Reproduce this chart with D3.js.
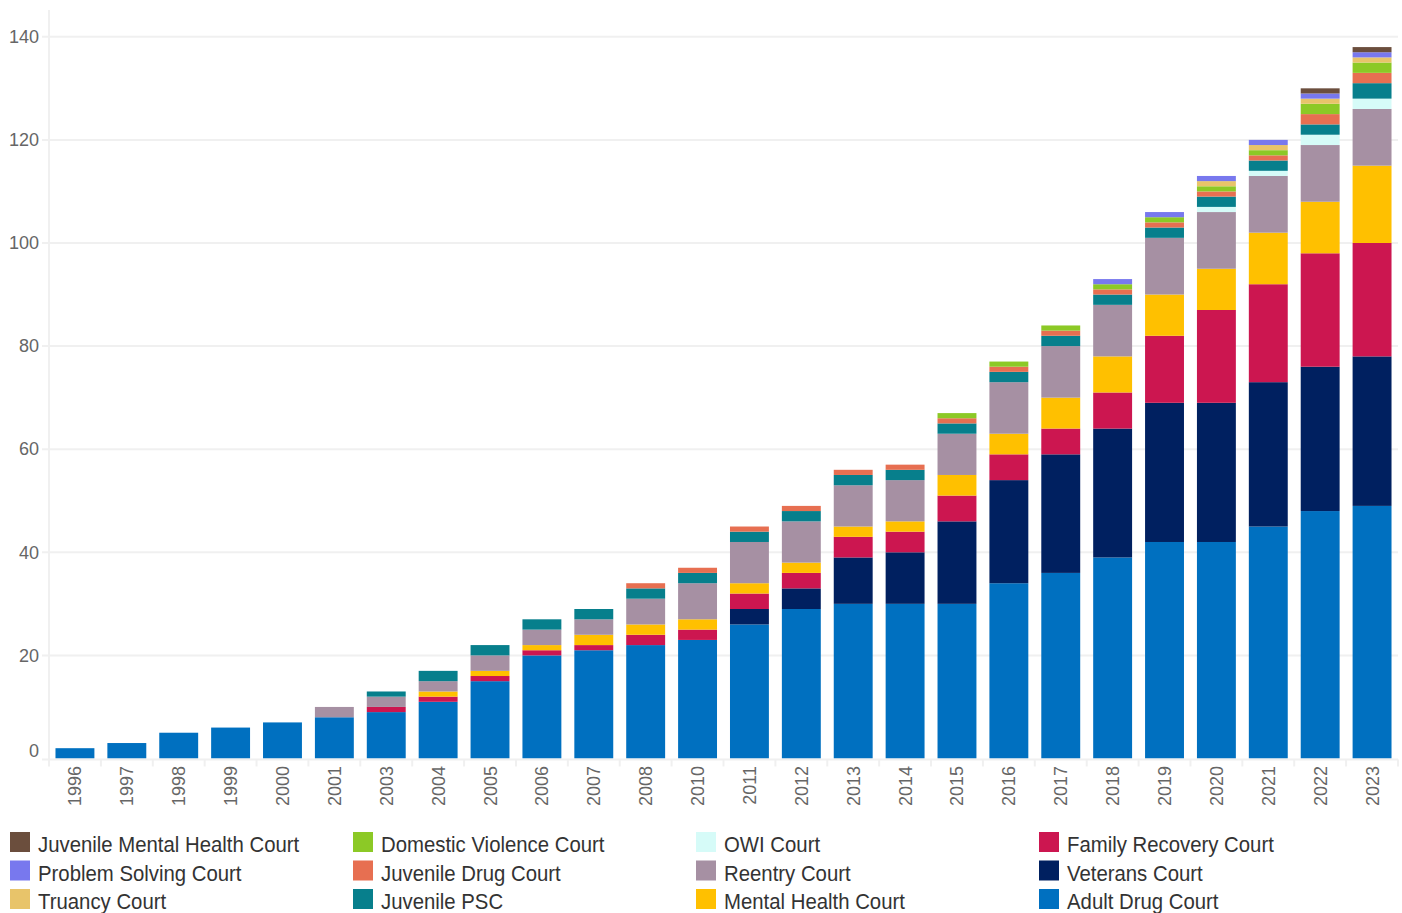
<!DOCTYPE html>
<html>
<head>
<meta charset="utf-8">
<script src="https://cdn.jsdelivr.net/npm/d3@7"></script>
<style>
  html, body { margin: 0; padding: 0; background: #fff; }
  svg { display: block; font-family: "Liberation Sans", Arial, sans-serif; }
</style>
</head>
<body>
<svg id="chart" width="1402" height="913"></svg>
<script>
// Number of problem-solving courts by year, stacked by court type
const years = [1996, 1997, 1998, 1999, 2000, 2001, 2003, 2004, 2005, 2006, 2007, 2008, 2010,
               2011, 2012, 2013, 2014, 2015, 2016, 2017, 2018, 2019, 2020, 2021, 2022, 2023];

const adultDrug      = [2, 3, 5, 6, 7, 8, 9, 11, 15, 20, 21, 22, 23, 26, 29, 30, 30, 30, 34, 36, 39, 42, 42, 45, 48, 49];
const veterans       = [0, 0, 0, 0, 0, 0, 0, 0, 0, 0, 0, 0, 0, 3, 4, 9, 10, 16, 20, 23, 25, 27, 27, 28, 28, 29];
const familyRecovery = [0, 0, 0, 0, 0, 0, 1, 1, 1, 1, 1, 2, 2, 3, 3, 4, 4, 5, 5, 5, 7, 13, 18, 19, 22, 22];
const mentalHealth   = [0, 0, 0, 0, 0, 0, 0, 1, 1, 1, 2, 2, 2, 2, 2, 2, 2, 4, 4, 6, 7, 8, 8, 10, 10, 15];
const reentry        = [0, 0, 0, 0, 0, 2, 2, 2, 3, 3, 3, 5, 7, 8, 8, 8, 8, 8, 10, 10, 10, 11, 11, 11, 11, 11];
const owi            = [0, 0, 0, 0, 0, 0, 0, 0, 0, 0, 0, 0, 0, 0, 0, 0, 0, 0, 0, 0, 0, 0, 1, 1, 2, 2];
const juvenilePSC    = [0, 0, 0, 0, 0, 0, 1, 2, 2, 2, 2, 2, 2, 2, 2, 2, 2, 2, 2, 2, 2, 2, 2, 2, 2, 3];
const juvenileDrug   = [0, 0, 0, 0, 0, 0, 0, 0, 0, 0, 0, 1, 1, 1, 1, 1, 1, 1, 1, 1, 1, 1, 1, 1, 2, 2];
const domesticViol   = [0, 0, 0, 0, 0, 0, 0, 0, 0, 0, 0, 0, 0, 0, 0, 0, 0, 1, 1, 1, 1, 1, 1, 1, 2, 2];
const truancy        = [0, 0, 0, 0, 0, 0, 0, 0, 0, 0, 0, 0, 0, 0, 0, 0, 0, 0, 0, 0, 0, 0, 1, 1, 1, 1];
const problemSolving = [0, 0, 0, 0, 0, 0, 0, 0, 0, 0, 0, 0, 0, 0, 0, 0, 0, 0, 0, 0, 1, 1, 1, 1, 1, 1];
const juvMentalHealth= [0, 0, 0, 0, 0, 0, 0, 0, 0, 0, 0, 0, 0, 0, 0, 0, 0, 0, 0, 0, 0, 0, 0, 0, 1, 1];

// Stack order, bottom to top
const seriesNames = ["Adult Drug Court", "Veterans Court", "Family Recovery Court", "Mental Health Court",
                     "Reentry Court", "OWI Court", "Juvenile PSC", "Juvenile Drug Court",
                     "Domestic Violence Court", "Truancy Court", "Problem Solving Court",
                     "Juvenile Mental Health Court"];
const seriesValues = [adultDrug, veterans, familyRecovery, mentalHealth, reentry, owi, juvenilePSC,
                      juvenileDrug, domesticViol, truancy, problemSolving, juvMentalHealth];
const seriesColors = ["#0070C0", "#002060", "#CC1650", "#FFC000", "#A690A3", "#D6FBF8", "#077F8C",
                      "#E76F51", "#8CC926", "#E8C46A", "#7878EE", "#6B4E3D"];

const yTicks = [0, 20, 40, 60, 80, 100, 120, 140];

// Legend reading order (column-major, 3 rows x 4 columns)
const legendOrder = ["Juvenile Mental Health Court", "Problem Solving Court", "Truancy Court",
                     "Domestic Violence Court", "Juvenile Drug Court", "Juvenile PSC",
                     "OWI Court", "Reentry Court", "Mental Health Court",
                     "Family Recovery Court", "Veterans Court", "Adult Drug Court"];

const table = years.map((yr, i) => {
  const row = { year: String(yr) };
  seriesNames.forEach((name, s) => { row[name] = seriesValues[s][i]; });
  return row;
});

const svg = d3.select("#chart");
const plot = { left: 49, right: 1398, top: 11, bottom: 758.5 };

const x = d3.scaleBand()
  .domain(years.map(String))
  .range([plot.left, plot.right])
  .paddingInner(0.25)
  .paddingOuter(0.125);

const y = d3.scaleLinear().domain([0, 145]).range([plot.bottom, plot.top]);

const color = d3.scaleOrdinal().domain(seriesNames).range(seriesColors);

// Gridlines
svg.append("g")
  .selectAll("line")
  .data(yTicks.filter(t => t > 0))
  .join("line")
  .attr("x1", plot.left - 7).attr("x2", plot.right)
  .attr("y1", d => y(d)).attr("y2", d => y(d))
  .attr("stroke", "#f0f0f0").attr("stroke-width", 2);

// Left axis line
svg.append("line")
  .attr("x1", plot.left).attr("x2", plot.left)
  .attr("y1", plot.top - 1).attr("y2", plot.bottom + 7)
  .attr("stroke", "#f0f0f0").attr("stroke-width", 2);

// Y tick labels
svg.append("g")
  .selectAll("text")
  .data(yTicks)
  .join("text")
  .attr("x", 39)
  .attr("y", d => y(d) + (d === 0 ? -8 : 0))
  .attr("dy", "0.35em")
  .attr("text-anchor", "end")
  .attr("font-size", 18)
  .attr("fill", "#666")
  .text(d => d);

// Stacked bars
const stacked = d3.stack().keys(seriesNames)(table);

svg.append("g")
  .selectAll("g")
  .data(stacked)
  .join("g")
  .attr("fill", d => color(d.key))
  .selectAll("rect")
  .data(d => d.filter(p => p[1] - p[0] > 0))
  .join("rect")
  .attr("x", d => x(d.data.year))
  .attr("width", x.bandwidth())
  .attr("y", d => y(d[1]))
  .attr("height", d => y(d[0]) - y(d[1]));

// Bottom axis line and category separators
svg.append("line")
  .attr("x1", plot.left - 7).attr("x2", plot.right)
  .attr("y1", plot.bottom + 1).attr("y2", plot.bottom + 1)
  .attr("stroke", "#f0f0f0").attr("stroke-width", 2);

const step = x.step();
svg.append("g")
  .selectAll("line")
  .data(d3.range(years.length + 1))
  .join("line")
  .attr("x1", i => plot.left + i * step).attr("x2", i => plot.left + i * step)
  .attr("y1", plot.bottom + 1).attr("y2", plot.bottom + 8)
  .attr("stroke", "#f0f0f0").attr("stroke-width", 2);

// X tick labels (rotated)
svg.append("g")
  .selectAll("text")
  .data(years.map(String))
  .join("text")
  .attr("transform", d => `translate(${x(d) + x.bandwidth() / 2},${766}) rotate(-90)`)
  .attr("text-anchor", "end")
  .attr("dy", "0.36em")
  .attr("font-size", 18)
  .attr("fill", "#666")
  .text(d => d);

// Legend
const legend = svg.append("g");
const items = legend.selectAll("g")
  .data(legendOrder)
  .join("g")
  .attr("transform", (d, i) => {
    const col = Math.floor(i / 3), row = i % 3;
    return `translate(${10 + col * 343},${832 + row * 28.5})`;
  });

items.append("rect")
  .attr("width", 20).attr("height", 20)
  .attr("fill", d => color(d));

items.append("text")
  .attr("transform", "translate(28,20) scale(0.885,1)")
  .attr("font-size", 23)
  .attr("fill", "#333")
  .text(d => d);
</script>
</body>
</html>
